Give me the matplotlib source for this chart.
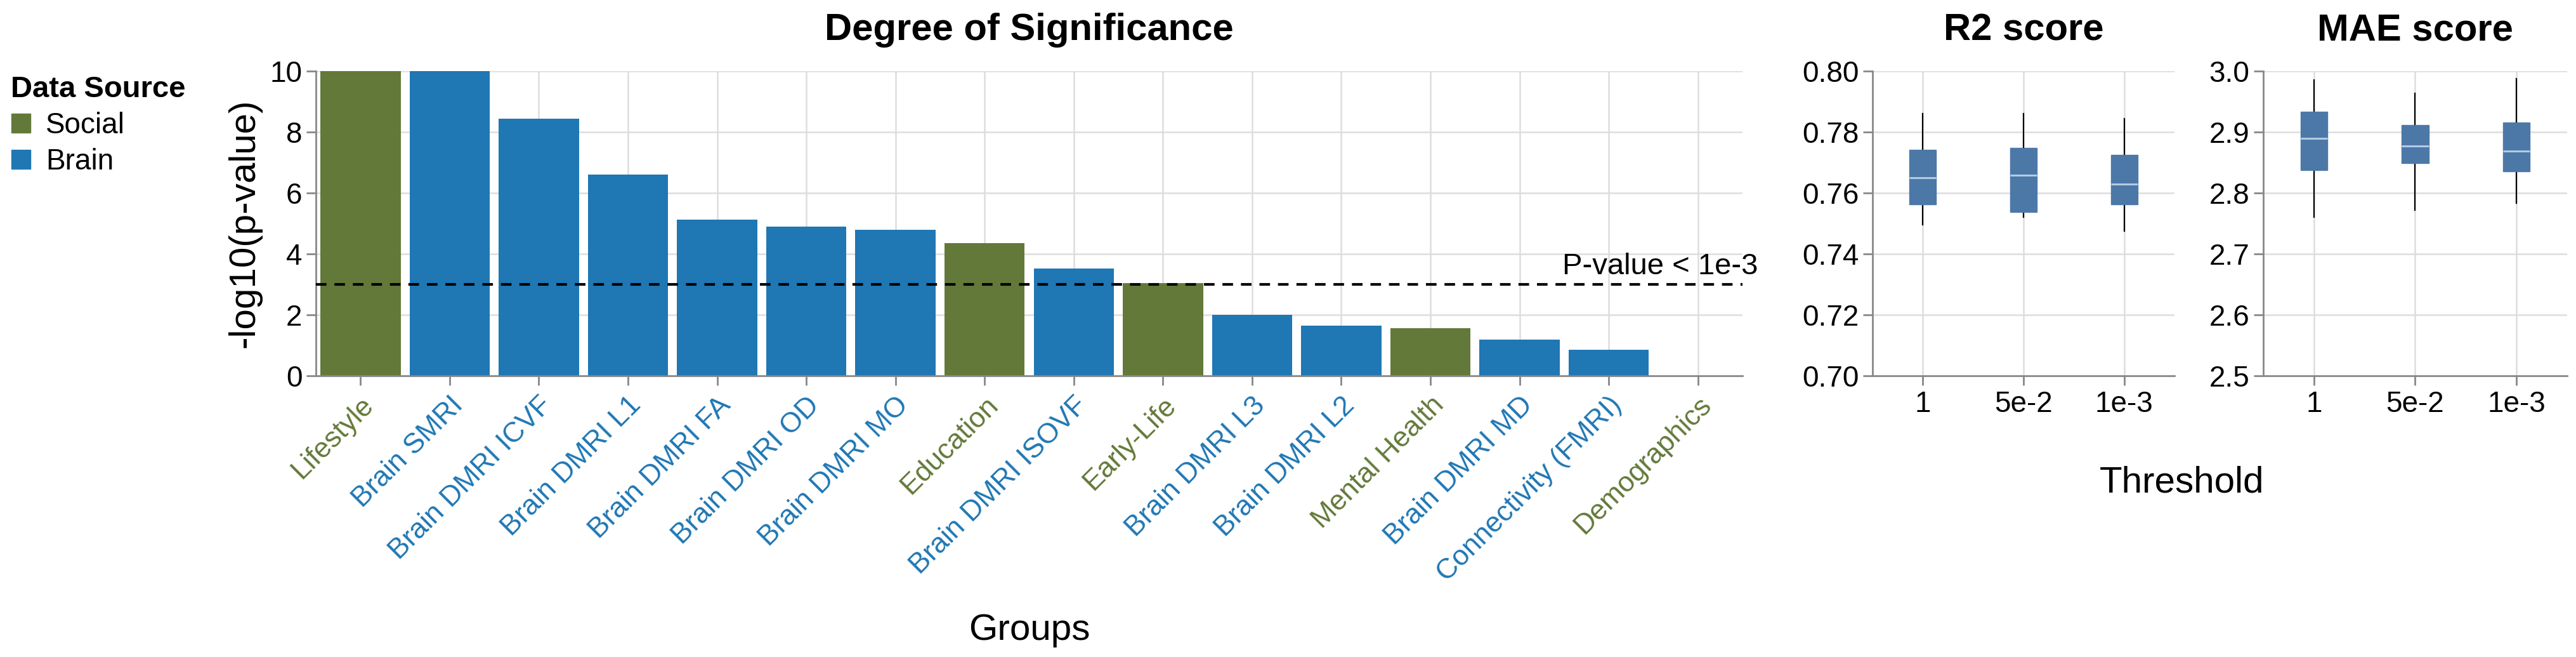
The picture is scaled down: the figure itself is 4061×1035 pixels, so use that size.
import matplotlib
matplotlib.use("Agg")
import matplotlib.pyplot as plt
from matplotlib.lines import Line2D
import numpy as np

plt.rcParams['font.family'] = ['Liberation Sans', 'DejaVu Sans']

# ---------------- data ----------------
groups = ["Lifestyle", "Brain SMRI", "Brain DMRI ICVF", "Brain DMRI L1", "Brain DMRI FA",
          "Brain DMRI OD", "Brain DMRI MO", "Education", "Brain DMRI ISOVF", "Early-Life",
          "Brain DMRI L3", "Brain DMRI L2", "Mental Health", "Brain DMRI MD",
          "Connectivity (FMRI)", "Demographics"]
sources = ["Social", "Brain", "Brain", "Brain", "Brain",
           "Brain", "Brain", "Social", "Brain", "Social",
           "Brain", "Brain", "Social", "Brain",
           "Brain", "Social"]
neglog_p = [10.0, 10.0, 8.44, 6.61, 5.12, 4.89, 4.79, 4.35, 3.52, 3.05,
            1.99, 1.65, 1.56, 1.18, 0.86, 0.0]
threshold_value = 3.0
threshold_label = "P-value < 1e-3"

thresholds = ["1", "5e-2", "1e-3"]
r2_whislo = [0.7495, 0.7520, 0.7474]
r2_q1 = [0.7562, 0.7537, 0.7563]
r2_med = [0.7650, 0.7659, 0.7630]
r2_q3 = [0.7741, 0.7748, 0.7726]
r2_whishi = [0.7861, 0.7860, 0.7843]

mae_whislo = [2.760, 2.772, 2.783]
mae_q1 = [2.838, 2.849, 2.835]
mae_med = [2.890, 2.877, 2.869]
mae_q3 = [2.933, 2.911, 2.916]
mae_whishi = [2.985, 2.964, 2.988]

source_colors = {"Social": "#637939", "Brain": "#1f77b4"}
box_color = "#4c78a8"
grid_color = "#dddddd"
axis_color = "#888888"

W, H = 4062, 1035
fig = plt.figure(figsize=(W / 100, H / 100), dpi=100)


def fr(left, top, right, bottom):
    return [left / W, 1 - bottom / H, (right - left) / W, (bottom - top) / H]


def style_axes(ax):
    for s in ["top", "right"]:
        ax.spines[s].set_visible(False)
    for s in ["left", "bottom"]:
        ax.spines[s].set_color(axis_color)
        ax.spines[s].set_linewidth(2.0)
    ax.grid(True, color=grid_color, linewidth=1.8, zorder=0)
    ax.set_axisbelow(True)
    ax.tick_params(axis="both", direction="out", length=10.5, width=2.0,
                   color=axis_color, labelsize=33)
    ax.tick_params(axis="y", pad=5)


# ---------------- main bar chart ----------------
ax = fig.add_axes(fr(498, 112, 2747, 592))
style_axes(ax)
x = np.arange(len(groups))
bar_colors = [source_colors[s] for s in sources]
ax.bar(x, neglog_p, width=0.9, color=bar_colors, zorder=2)
ax.set_xlim(-0.5, len(groups) - 0.5)
ax.set_ylim(0, 10)
ax.set_yticks([0, 2, 4, 6, 8, 10])
ax.set_xticks(x)
ax.set_xticklabels(groups, rotation=45, ha="right", va="top",
                   rotation_mode="anchor", fontsize=32)
ax.tick_params(axis="x", pad=8)
for lab, s in zip(ax.get_xticklabels(), sources):
    lab.set_color(source_colors[s])
ax.axhline(threshold_value, color="black", linewidth=3, dashes=(4, 3), zorder=3)
ax.text(1.011, threshold_value + 0.33, threshold_label,
        transform=ax.get_yaxis_transform(), ha="right", va="baseline",
        fontsize=34, clip_on=False)
ax.set_title("Degree of Significance", fontsize=43, fontweight="bold", pad=35)
ax.set_ylabel("-log10(p-value)", fontsize=42)
ax.yaxis.set_label_coords(-(499 - 413) / 2249, 0.5)
ax.set_xlabel("Groups", fontsize=42)
ax.xaxis.set_label_coords(0.5, -(1008 - 592) / 480)
ax.xaxis.label.set_va("baseline")

# legend
handles = [Line2D([0], [0], marker="s", linestyle="none", markersize=21.5,
                  markerfacecolor=source_colors[k], markeredgecolor=source_colors[k])
           for k in ["Social", "Brain"]]
leg = fig.legend(handles, ["Social", "Brain"], title="Data Source",
                 loc="upper left", bbox_to_anchor=(17 / W, 1 - 119 / H),
                 frameon=False, fontsize=33, borderpad=0, borderaxespad=0,
                 handlelength=0.7, handletextpad=0.5, labelspacing=0.28,
                 title_fontproperties={"weight": "bold", "size": 34},
                 alignment="left")


# ---------------- box plots ----------------
def draw_box(ax, whislo, q1, med, q3, whishi, ylim, yticks, fmt, title):
    style_axes(ax)
    stats = []
    for i in range(len(thresholds)):
        stats.append(dict(whislo=whislo[i], q1=q1[i], med=med[i], q3=q3[i],
                          whishi=whishi[i], fliers=[], label=thresholds[i]))
    ax.bxp(stats, positions=np.arange(len(thresholds)), widths=0.265,
           showcaps=False, showfliers=False, patch_artist=True,
           boxprops=dict(facecolor=box_color, edgecolor=box_color, linewidth=1, zorder=3),
           medianprops=dict(color="#b4cbe3", linewidth=2.2, zorder=4),
           whiskerprops=dict(color="black", linewidth=1.6, zorder=2))
    ax.set_xlim(-0.5, len(thresholds) - 0.5)
    ax.set_ylim(*ylim)
    ax.set_yticks(yticks)
    ax.set_yticklabels([fmt.format(v) for v in yticks])
    ax.set_xticks(np.arange(len(thresholds)))
    ax.set_xticklabels(thresholds, fontsize=33)
    ax.tick_params(axis="x", pad=6)
    ax.set_title(title, fontsize=43, fontweight="bold", pad=35)


ax_r2 = fig.add_axes(fr(2952, 112, 3428, 592))
draw_box(ax_r2, r2_whislo, r2_q1, r2_med, r2_q3, r2_whishi,
         (0.70, 0.80), [0.70, 0.72, 0.74, 0.76, 0.78, 0.80], "{:.2f}", "R2 score")

ax_mae = fig.add_axes(fr(3568, 112, 4047, 592))
draw_box(ax_mae, mae_whislo, mae_q1, mae_med, mae_q3, mae_whishi,
         (2.5, 3.0), [2.5, 2.6, 2.7, 2.8, 2.9, 3.0], "{:.1f}", "MAE score")

fig.text(3440 / W, 1 - 776 / H, "Threshold", ha="center", va="baseline", fontsize=42)

fig.savefig("out.png", dpi=100, facecolor="white")
